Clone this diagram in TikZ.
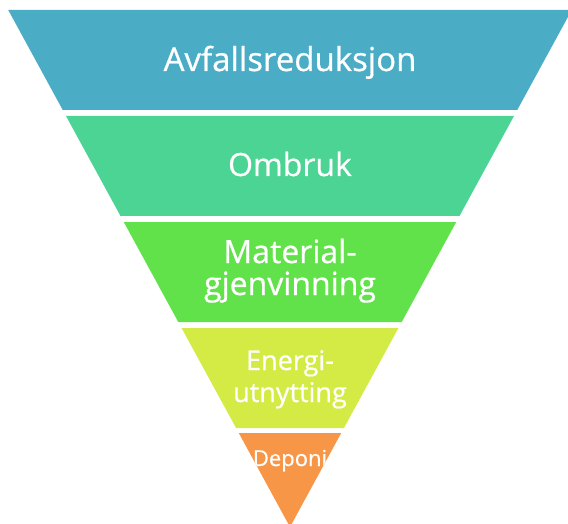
\documentclass[tikz,border=0pt]{standalone}
\usepackage{fontspec}
\setmainfont{Open Sans}
\newfontfamily\lblfont{Open Sans}[FakeBold=0.6]
\usepackage{tikz}

\definecolor{bandA}{RGB}{75,172,198}
\definecolor{bandB}{RGB}{75,212,147}
\definecolor{bandC}{RGB}{98,226,74}
\definecolor{bandD}{RGB}{212,235,70}
\definecolor{bandE}{RGB}{247,150,70}

\tikzset{
  lbl/.style={text=white, inner sep=0pt, align=center, anchor=base}
}

\begin{document}
\begin{tikzpicture}[x=1pt,y=-1pt]
  \useasboundingbox (0,0) rectangle (568,524);
  \clip (0,0) rectangle (568,524);
  % trinn: topp/bunn/farge/navn/skrift/grunnlinje/tekst
  \foreach \yt/\yb/\col/\nm/\fs/\yl/\txt in {
      10/110/bandA/avfall/33/71/{Avfallsreduksjon},
      116/216/bandB/ombruk/32/176/{Ombruk},
      222/322/bandC/material/32/295/{Material-\\gjenvinning},
      328/428/bandD/energi/27/402/{Energi-\\utnytting},
      433/527/bandE/deponi/22/466/{Deponi}}{
    \pgfmathsetmacro\wt{0.545*(527-\yt)}
    \pgfmathsetmacro\wb{0.545*(527-\yb)}
    \begin{scope}
      \clip (290-\wt,\yt) -- (290+\wt,\yt) -- (290+\wb,\yb) -- (290-\wb,\yb) -- cycle;
      \fill[\col] (0,0) rectangle (568,527);
      \node[lbl, font=\lblfont\fontsize{\fs}{32}\selectfont] (\nm) at (290,\yl) {\txt};
    \end{scope}
  }
\end{tikzpicture}
\end{document}
